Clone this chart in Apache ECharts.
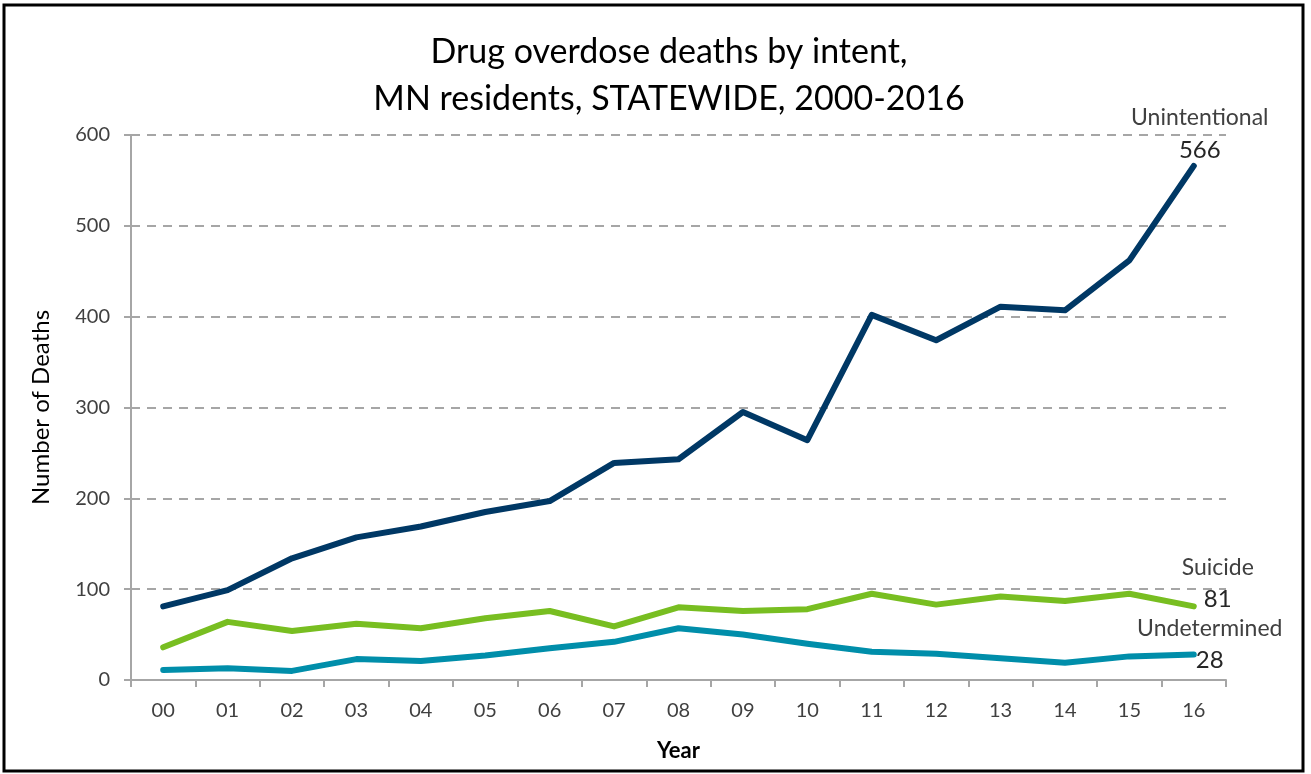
<!DOCTYPE html>
<html>
<head>
<meta charset="utf-8">
<script src="https://cdn.jsdelivr.net/npm/echarts@6/dist/echarts.min.js"></script>
<style>
html,body{margin:0;padding:0;background:#fff;}
#chart{width:1311px;height:774px;}
</style>
</head>
<body>
<div id="chart"></div>
<script>
const years = ['00','01','02','03','04','05','06','07','08','09','10','11','12','13','14','15','16'];
const unintentional = [81, 99, 134, 157, 169, 185, 197, 239, 243, 295, 264, 402, 374, 411, 407, 462, 566];
const suicide = [36, 64, 54, 62, 57, 68, 76, 59, 80, 76, 78, 95, 83, 92, 87, 95, 81];
const undetermined = [11, 13, 10, 23, 21, 27, 35, 42, 57, 50, 40, 31, 29, 24, 19, 26, 28];
const yTicks = [0, 100, 200, 300, 400, 500, 600];

const FONT = 'Lato';
const chart = echarts.init(document.getElementById('chart'));

function withEndLabel(name, values, dx, dy) {
  return values.map((v, i) => {
    if (i !== values.length - 1) return v;
    return {
      value: v,
      label: {
        show: true,
        position: 'top',
        distance: 5,
        offset: [dx, dy],
        formatter: '{n|' + name + '}\n{v|' + v + '}',
        rich: {
          n: { fontFamily: FONT, fontSize: 23, color: '#404040', lineHeight: 32, align: 'center' },
          v: { fontFamily: FONT, fontSize: 24, color: '#262626', lineHeight: 32, align: 'center' }
        }
      }
    };
  });
}

function lineSeries(name, values, color, dx, dy) {
  return {
    name: name,
    type: 'line',
    data: withEndLabel(name, values, dx, dy),
    symbol: 'circle',
    symbolSize: 2,
    showSymbol: true,
    lineStyle: { color: color, width: 6, cap: 'round', join: 'round' },
    itemStyle: { color: color },
    label: { show: false },
    animation: false,
    z: 3
  };
}

chart.setOption({
  animation: false,
  backgroundColor: '#ffffff',
  title: {
    text: 'Drug overdose deaths by intent,\nMN residents, STATEWIDE, 2000-2016',
    left: 664,
    top: 24,
    textAlign: 'center',
    textStyle: { fontFamily: FONT, fontSize: 34, fontWeight: 'normal', color: '#000', lineHeight: 47 }
  },
  graphic: [{
    type: 'rect',
    shape: { x: 4, y: 5, width: 1299, height: 766 },
    style: { fill: 'none', stroke: '#000', lineWidth: 3 },
    silent: true
  }],
  grid: { left: 131, right: 85, top: 135, bottom: 94, containLabel: false },
  xAxis: {
    type: 'category',
    data: years,
    boundaryGap: true,
    name: 'Year',
    nameLocation: 'middle',
    nameGap: 60,
    nameTextStyle: { fontFamily: FONT, fontSize: 22, fontWeight: 'bold', color: '#000' },
    axisLine: { lineStyle: { color: '#A6A6A6', width: 2 } },
    axisTick: { show: true, length: 7, lineStyle: { color: '#A6A6A6', width: 2 } },
    axisLabel: { fontFamily: FONT, fontSize: 20, color: '#404040', margin: 21 },
    splitLine: { show: false }
  },
  yAxis: {
    type: 'value',
    min: 0,
    max: 600,
    interval: 100,
    name: 'Number of Deaths',
    nameLocation: 'middle',
    nameGap: 78,
    nameRotate: 90,
    nameTextStyle: { fontFamily: FONT, fontSize: 24, color: '#000' },
    axisLine: { show: true, lineStyle: { color: '#A6A6A6', width: 2 } },
    axisTick: { show: true, length: 7, lineStyle: { color: '#A6A6A6', width: 2 } },
    axisLabel: {
      fontFamily: FONT, fontSize: 20, color: '#404040', margin: 21,
      formatter: v => (yTicks.indexOf(v) >= 0 ? String(v) : '')
    },
    splitLine: { show: true, lineStyle: { color: '#A6A6A6', width: 2, type: [9, 7] } }
  },
  series: [
    lineSeries('Unintentional', unintentional, '#003865', 6, 6),
    lineSeries('Suicide', suicide, '#78BE21', 24, 15),
    lineSeries('Undetermined', undetermined, '#008EAA', 16, 28)
  ]
});
</script>
</body>
</html>
